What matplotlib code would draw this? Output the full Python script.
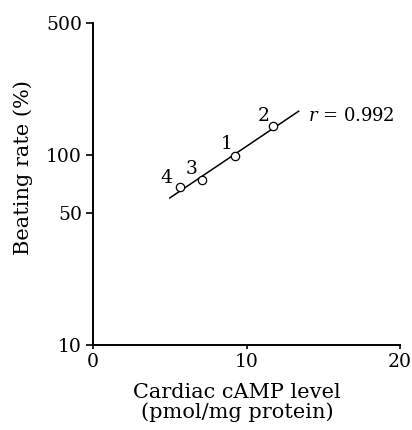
import numpy as np
import matplotlib
matplotlib.use("Agg")
import matplotlib.pyplot as plt

# Data
labels = ["1", "2", "3", "4"]
camp = [9.25, 11.75, 7.08, 5.67]          # pmol/mg protein
rate = [99, 143, 74, 68]                  # beating rate (%)
fit_range = [5.0, 13.4]                   # x extent of the regression line
r_text = "0.992"
yticks = [10, 50, 100, 500]
xticks = [0, 10, 20]

plt.rcParams['font.family'] = ['DejaVu Serif']
plt.rcParams['mathtext.fontset'] = 'dejavuserif'

fig = plt.figure(figsize=(4.12, 4.30), dpi=100)
ax = fig.add_axes([93/412, 1-345/430, 307/412, 322/430])

# log-linear regression computed from the data
x = np.array(camp)
ly = np.log10(np.array(rate, dtype=float))
slope, intercept = np.polyfit(x, ly, 1)
xf = np.array(fit_range)
ax.plot(xf, 10 ** (intercept + slope * xf), color='black', lw=1.1, zorder=2)

ax.plot(camp, rate, linestyle='none', marker='o', markersize=6,
        markerfacecolor='white', markeredgecolor='black', markeredgewidth=0.9,
        zorder=3)

offsets = {"1": (-8, 12), "2": (-10, 10), "3": (-10, 11), "4": (-14, 9)}
for lab, xv, yv in zip(labels, camp, rate):
    ax.annotate(lab, (xv, yv), xytext=offsets[lab], textcoords='offset pixels',
                ha='center', va='center', fontsize=13.5)

ax.text(14.0, 161, r"$r$ = " + r_text, ha='left', va='center', fontsize=13)

ax.set_yscale('log')
ax.set_xlim(0, 20)
ax.set_ylim(10, 500)
ax.set_yticks(yticks)
ax.set_yticklabels([str(t) for t in yticks])
ax.yaxis.set_minor_locator(matplotlib.ticker.NullLocator())
ax.set_xticks(xticks)
ax.set_xticklabels([str(t) for t in xticks])

for s in ['top', 'right']:
    ax.spines[s].set_visible(False)
for s in ['left', 'bottom']:
    ax.spines[s].set_linewidth(1.4)
ax.tick_params(axis='y', direction='out', length=5, width=1.2, pad=3, labelsize=13.5)
ax.tick_params(axis='x', direction='out', length=3, width=1.2, pad=3, labelsize=13.5)

ax.set_ylabel("Beating rate (%)", fontsize=15)
ax.yaxis.set_label_coords(-0.195, 0.55)
ax.set_xlabel("Cardiac cAMP level\n(pmol/mg protein)", fontsize=15, linespacing=1.0)
ax.xaxis.set_label_coords(0.47, -0.118)

fig.savefig("out.png", dpi=100)
